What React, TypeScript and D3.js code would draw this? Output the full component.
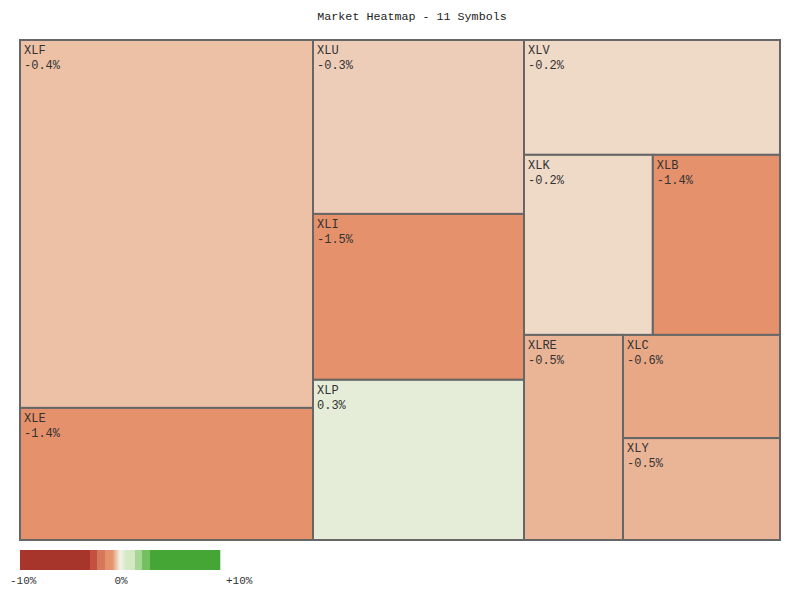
import { useEffect, useRef } from "react"
import * as d3 from "d3"

// sector ETFs, daily change (%) and relative weight
const symbols = ["XLF", "XLE", "XLU", "XLI", "XLP", "XLV", "XLK", "XLB", "XLRE", "XLC", "XLY"]
const changes = [-0.4, -1.4, -0.3, -1.5, 0.3, -0.2, -0.2, -1.4, -0.5, -0.6, -0.5]
const weights = [107.8, 38.7, 36.7, 35.0, 33.8, 29.4, 23.2, 22.9, 20.3, 16.2, 16.0]

// how the tiles are grouped (indices into symbols)
const groups: any[] = [[0, 1], [2, 3, 4], [5, [6, 7], [8, [9, 10]]]]

const legendTicks = [-10, 0, 10]

const W = 800
const H = 600

function colorFor(v: number) {
  if (v <= -3) return "#a8352c"
  if (v < -2.25) return "#c5503f"
  if (v < -1.5) return "#d4775a"
  if (v < -0.75) return "#e5916b"
  if (v < 0) return d3.interpolateRgb("#f3f2e8", "#e5966d")(-v / 0.75)
  if (v >= 3) return "#45a535"
  if (v >= 2.25) return "#74c060"
  if (v >= 1.5) return "#a8d696"
  if (v >= 0.75) return "#d3e8c3"
  return d3.interpolateRgb("#f3f2e8", "#d0e6bf")(v / 0.75)
}

function build(g: any): any {
  if (Array.isArray(g)) return { children: g.map(build) }
  return { name: symbols[g], change: changes[g], value: weights[g] }
}

export default function App() {
  const svgRef = useRef<SVGSVGElement>(null)

  useEffect(() => {
    if (!svgRef.current) return
    const svg = d3.select(svgRef.current)
    svg.selectAll("*").remove()

    const margin = { top: 40, right: 20, bottom: 60, left: 20 }
    const width = W - margin.left - margin.right
    const height = H - margin.top - margin.bottom

    // title
    svg
      .append("text")
      .attr("x", W / 2 + 12)
      .attr("y", 20)
      .attr("text-anchor", "middle")
      .attr("font-size", "11.7px")
      .attr("fill", "#222")
      .text(`Market Heatmap - ${symbols.length} Symbols`)

    const root = d3
      .hierarchy(build(groups))
      .sum((d: any) => d.value || 0)

    // split along the longer side at each level
    d3
      .treemap()
      .size([width, height])
      .tile((node: any, x0: number, y0: number, x1: number, y1: number) => {
        if (x1 - x0 >= y1 - y0) d3.treemapDice(node, x0, y0, x1, y1)
        else d3.treemapSlice(node, x0, y0, x1, y1)
      })(root as any)

    const g = svg.append("g").attr("transform", `translate(${margin.left},${margin.top})`)

    const cell = g
      .selectAll("g.cell")
      .data(root.leaves() as any[])
      .enter()
      .append("g")
      .attr("class", "cell")
      .attr("transform", (d: any) => `translate(${d.x0},${d.y0})`)

    cell
      .append("rect")
      .attr("width", (d: any) => d.x1 - d.x0)
      .attr("height", (d: any) => d.y1 - d.y0)
      .attr("fill", (d: any) => colorFor(d.data.change))
      .attr("stroke", "#666")
      .attr("stroke-width", 2)

    cell
      .append("text")
      .attr("x", 4)
      .attr("y", 14)
      .attr("font-size", "12px")
      .attr("fill", "#333")
      .text((d: any) => d.data.name)

    cell
      .append("text")
      .attr("x", 4)
      .attr("y", 29)
      .attr("font-size", "12px")
      .attr("fill", "#333")
      .text((d: any) => `${d.data.change.toFixed(1)}%`)

    // legend
    const lx = d3.scaleLinear().domain([-10, 10]).range([20, 220])
    const steps = d3.range(-10, 10, 0.1)
    svg
      .append("g")
      .selectAll("rect")
      .data(steps)
      .enter()
      .append("rect")
      .attr("x", d => lx(d))
      .attr("y", 550)
      .attr("width", lx(0.1) - lx(0) + 0.3)
      .attr("height", 20)
      .attr("fill", d => colorFor(d + 0.05))

    svg
      .append("g")
      .selectAll("text")
      .data(legendTicks)
      .enter()
      .append("text")
      .attr("x", d => (d < 0 ? lx(d) - 10 : d > 0 ? lx(d) + 6 : lx(d) + 1))
      .attr("y", 584)
      .attr("text-anchor", d => (d === 0 ? "middle" : "start"))
      .attr("font-size", "11px")
      .attr("fill", "#333")
      .text(d => (d > 0 ? `+${d}%` : `${d}%`))
  }, [])

  return (
    <svg
      ref={svgRef}
      width={W}
      height={H}
      style={{ position: "absolute", left: 0, top: 0, background: "#fff", fontFamily: "'Liberation Mono', monospace" }}
    />
  )
}
